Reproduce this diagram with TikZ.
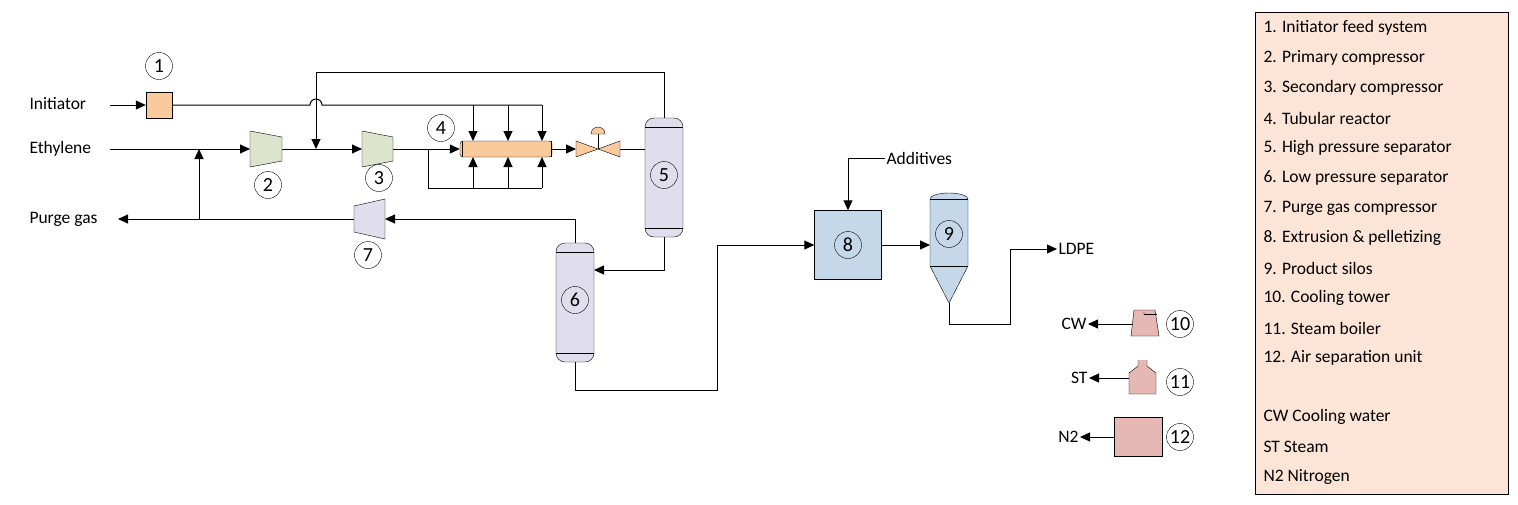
\documentclass[tikz,border=0pt]{standalone}
\usepackage{fontspec}
\setmainfont{Carlito}
\usetikzlibrary{arrows.meta,shapes.geometric}
\definecolor{orng}{HTML}{FAC99C}
\definecolor{grn}{HTML}{DDE4CC}
\definecolor{lav}{HTML}{E0DEEC}
\definecolor{blu}{HTML}{C4D8EA}
\definecolor{pnk}{HTML}{E6B8B4}
\definecolor{leg}{HTML}{FCE4D6}
\begin{document}
\begin{tikzpicture}[x=1pt,y=-1pt,font=\fontsize{17.5}{19}\selectfont,
  line width=1pt,
  flow/.style={-{Triangle[length=10pt,width=9pt]}},
  num/.style={circle,draw,thin,inner sep=0pt,minimum size=27pt,font=\fontsize{20}{20}\selectfont},
  lbl/.style={inner sep=1pt},
  eq/.style={draw,thin}]
\useasboundingbox (0,0) rectangle (1518,504);
% legend
\node[draw,thin,fill=leg,minimum width=253pt,minimum height=482pt,anchor=north west] (legend) at (1255,12) {};
\foreach \t [count=\i] in {1. Initiator feed system,2. Primary compressor,3. Secondary compressor,4. Tubular reactor,5. High pressure separator,6. Low pressure separator,7. Purge gas compressor,8. Extrusion \& pelletizing,9. Product silos,10. Cooling tower,11. Steam boiler,12. Air separation unit}
  \node[anchor=west,lbl] (l\i) at (1262,{28+30*(\i-1)}) {\t};
\node[anchor=west,lbl] (lcw) at (1262,417) {CW Cooling water};
\node[anchor=west,lbl] (lst) at (1262,447) {ST Steam};
\node[anchor=west,lbl] (ln2) at (1262,477) {N2 Nitrogen};
% texts
\node[anchor=west,lbl] (tinit) at (28,104) {Initiator};
\node[anchor=west,lbl] (teth) at (28,149) {Ethylene};
\node[anchor=west,lbl] (tpurge) at (28,219) {Purge gas};
\node[anchor=west,lbl] (tadd) at (885,158) {Additives};
\node[anchor=west,lbl] (tldpe) at (1057,249) {LDPE};
\node[anchor=east,lbl] (tcw) at (1088,324) {CW};
\node[anchor=east,lbl] (tst) at (1089,378) {ST};
\node[anchor=east,lbl] (tn2) at (1080,437) {N2};
% equipment 1
\node[eq,fill=orng,minimum width=26pt,minimum height=26pt,inner sep=0pt] (e1) at (159,105) {};
% compressors
\coordinate (e2in) at (250,149); \coordinate (e2out) at (282,149);
\draw[eq,fill=grn] (250,131) -- (282,137) -- (282,161) -- (250,167) -- cycle;
\coordinate (e3in) at (362,149); \coordinate (e3out) at (393,149);
\draw[eq,fill=grn] (362,131) -- (393,137) -- (393,161) -- (362,167) -- cycle;
\coordinate (e7in) at (385,219); \coordinate (e7out) at (354,219);
\draw[eq,fill=lav] (354,206) -- (385,199) -- (385,239) -- (354,232) -- cycle;
% reactor
\node[draw,thin,fill=orng,minimum width=92pt,minimum height=16pt,inner sep=0pt,rounded corners=3pt] (e4) at (506,149) {};
\draw[thin] (462,141)--(462,157) (551,141)--(551,157);
% valve
\draw[eq,fill=orng] (576,141) -- (620,157) -- (620,141) -- (576,157) -- cycle;
\coordinate (valin) at (576,149); \coordinate (valout) at (620,149);
\draw[thin] (598,149) -- (598,134);
\fill[orng] (591,134) arc (180:360:7) -- cycle;
\draw[thin] (591,134) arc (180:360:7) -- cycle;
% separators
\draw[eq,fill=lav,rounded corners=9pt] (645,118) rectangle (683,237);
\draw[thin] (645,127)--(683,127) (645,228)--(683,228);
\coordinate (e5top) at (664,118); \coordinate (e5bot) at (664,237); \coordinate (e5l) at (645,149);
\draw[eq,fill=lav,rounded corners=9pt] (556,243) rectangle (594,362);
\draw[thin] (556,252)--(594,252) (556,353)--(594,353);
\coordinate (e6top) at (575,243); \coordinate (e6bot) at (575,362); \coordinate (e6r) at (594,270);
% extrusion
\node[eq,fill=blu,minimum width=67pt,minimum height=69pt,inner sep=0pt] (e8) at (848,245) {};
% silo
\draw[eq,fill=blu] (930,199) -- (930,266) -- (949,303) -- (968,266) -- (968,199) arc (0:-180:19 and 6) -- cycle;
\draw[thin] (930,199)--(968,199) (930,266)--(968,266);
\coordinate (e9in) at (930,245); \coordinate (e9bot) at (949,303);
% utilities
\draw[eq,fill=pnk] (1134,310) -- (1155,310) -- (1159,336) -- (1131,336) -- cycle;
\draw[thin] (1144,314) -- (1157,314);
\node[font=\tiny,inner sep=0pt] at (1144,315) {*};
\coordinate (e10) at (1133,324);
\draw[eq,fill=pnk] (1138,360) -- (1138,366) -- (1129,373) -- (1129,394) -- (1156,394) -- (1156,373) -- (1147,366) -- (1147,360);
\coordinate (e11) at (1129,378);
\node[eq,fill=pnk,minimum width=48pt,minimum height=39pt,inner sep=0pt] (e12) at (1138,437) {};
% numbers
\node[num] (n1) at (159,66) {1};
\node[num] (n2) at (268,185) {2};
\node[num] (n3) at (379,178) {3};
\node[num] (n4) at (441,128) {4};
\node[num] (n5) at (664,175) {5};
\node[num] (n6) at (575,300) {6};
\node[num] (n7) at (368,255) {7};
\node[num] (n8) at (848,245) {8};
\node[num] (n9) at (949,234) {9};
\node[num] (n10) at (1180,324) {10};
\node[num] (n11) at (1180,382) {11};
\node[num] (n12) at (1180,437) {12};
% streams
\draw[flow] (110,105) -- (e1.west);
\draw (e1.east) -- (310,105) arc (180:360:6) -- (542,105);
\foreach \x in {473,508,542} {
  \draw[flow] (\x,105) -- (\x,141);
  \draw[flow] (\x,188) -- (\x,157);}
\draw[flow] (110,149) -- (e2in);
\draw[flow] (199,219) -- (199,149);
\draw[flow] (e2out) -- (e3in);
\draw[flow] (e5top) -- (664,72) -- (316,72) -- (316,149);
\draw (e3out) -- (428,149) -- (428,188) -- (542,188);
\draw[flow] (428,149) -- (e4.west);
\draw[flow] (e4.east) -- (valin);
\draw (valout) -- (e5l);
\draw[flow] (e5bot) -- (664,270) -- (e6r);
\draw[flow] (e6top) -- (575,219) -- (e7in);
\draw[flow] (e7out) -- (118,219);
\draw[flow] (e6bot) -- (575,390) -- (717,390) -- (717,245) -- (e8.west);
\draw[flow] (tadd.west) -- (848,158) -- (e8.north);
\draw[flow] (e8.east) -- (e9in);
\draw[flow] (e9bot) -- (949,324) -- (1010,324) -- (1010,249) -- (tldpe.west);
\draw[flow] (e10) -- (tcw.east);
\draw[flow] (e11) -- (tst.east);
\draw[flow] (e12.west) -- (tn2.east);
\end{tikzpicture}
\end{document}
